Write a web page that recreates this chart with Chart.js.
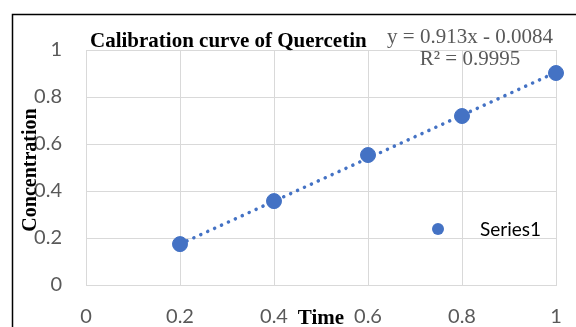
<!DOCTYPE html>
<html>
<head>
<meta charset="utf-8">
<script src="https://cdn.jsdelivr.net/npm/chart.js@4"></script>
<style>
  body { margin: 0; background: #fff; }
  #wrap { width: 576px; height: 327px; }
</style>
</head>
<body>
<div id="wrap"><canvas id="calChart" width="576" height="327"></canvas></div>
<script>
// Data
const xValues = [0.2, 0.4, 0.6, 0.8, 1.0];
const yValues = [0.174, 0.357, 0.553, 0.719, 0.902];
// trendline end points (y = 0.913x - 0.0084)
const trendX = [0.2, 1.0];
const trendY = [0.174, 0.905];
const xTicks = [0, 0.2, 0.4, 0.6, 0.8, 1];
const yTicks = [0, 0.2, 0.4, 0.6, 0.8, 1];

const blue = "#4472C4";
const tickFont = { family: "Lato", size: 20 };

// Draw frame, titles, equation and legend
const decorations = {
    id: "decorations",
    afterDraw(chart) {
        const ctx = chart.ctx;
        ctx.save();

        // frame lines
        ctx.strokeStyle = "#000";
        ctx.lineWidth = 1.5;
        ctx.beginPath();
        ctx.moveTo(12.5, 327);
        ctx.lineTo(12.5, 14.5);
        ctx.lineTo(576, 14.5);
        ctx.stroke();

        // chart title
        ctx.fillStyle = "#000";
        ctx.font = "bold 21px 'Liberation Serif'";
        ctx.textAlign = "left";
        ctx.textBaseline = "alphabetic";
        ctx.fillText("Calibration curve of Quercetin", 90, 47);

        // trendline equation
        ctx.fillStyle = "#595959";
        ctx.font = "21px 'Liberation Serif'";
        ctx.textAlign = "center";
        ctx.fillText("y = 0.913x - 0.0084", 470, 43);
        ctx.fillText("R\u00b2 = 0.9995", 470, 65);

        // axis titles
        ctx.fillStyle = "#000";
        ctx.font = "bold 21px 'Liberation Serif'";
        ctx.fillText("Time", 321, 324);
        ctx.save();
        ctx.translate(36, 170);
        ctx.rotate(-Math.PI / 2);
        ctx.font = "bold 20px 'Liberation Serif'";
        ctx.fillText("Concentration", 0, 0);
        ctx.restore();

        // legend
        ctx.fillStyle = blue;
        ctx.beginPath();
        ctx.arc(438, 229, 6, 0, Math.PI * 2);
        ctx.fill();
        ctx.fillStyle = "#000";
        ctx.font = "19px Lato";
        ctx.textAlign = "left";
        ctx.textBaseline = "middle";
        ctx.fillText("Series1", 480, 230);

        ctx.restore();
    }
};

const config = {
    type: "scatter",
    data: {
        datasets: [
            {
                label: "Series1",
                data: xValues.map((x, i) => ({ x: x, y: yValues[i] })),
                backgroundColor: blue,
                borderColor: blue,
                pointRadius: 7.5,
                pointHoverRadius: 7.5,
                clip: false,
                order: 1,
            },
            {
                label: "Linear (Series1)",
                type: "line",
                data: trendX.map((x, i) => ({ x: x, y: trendY[i] })),
                borderColor: blue,
                borderWidth: 3.5,
                borderDash: [0.1, 7.5],
                borderCapStyle: "round",
                pointRadius: 0,
                fill: false,
                clip: false,
                order: 2,
            },
        ],
    },
    options: {
        responsive: false,
        animation: false,
        layout: { autoPadding: false, padding: { top: 50, right: 20, left: 0, bottom: 0 } },
        plugins: {
            legend: { display: false },
            tooltip: { enabled: false },
        },
        scales: {
            x: {
                type: "linear",
                min: 0,
                max: 1,
                afterBuildTicks: (scale) => { scale.ticks = xTicks.map(v => ({ value: v })); },
                afterFit: (scale) => {
                    scale.height = 42;
                    scale.paddingLeft = 0;
                    scale.paddingRight = 0;
                },
                grid: { color: "#d9d9d9", lineWidth: 1, drawTicks: false },
                border: { color: "#d9d9d9", width: 1 },
                ticks: { font: tickFont, color: "#595959", padding: 20, maxRotation: 0, callback: (v) => String(v) },
            },
            y: {
                type: "linear",
                min: 0,
                max: 1,
                afterBuildTicks: (scale) => { scale.ticks = yTicks.map(v => ({ value: v })); },
                afterFit: (scale) => {
                    scale.width = 86;
                    scale.paddingTop = 0;
                    scale.paddingBottom = 0;
                },
                grid: { color: "#d9d9d9", lineWidth: 1, drawTicks: false },
                border: { color: "#d9d9d9", width: 1 },
                ticks: { font: tickFont, color: "#595959", padding: 24, callback: (v) => String(v) },
            },
        },
    },
    plugins: [decorations],
};

new Chart(document.getElementById("calChart").getContext("2d"), config);
</script>
</body>
</html>
